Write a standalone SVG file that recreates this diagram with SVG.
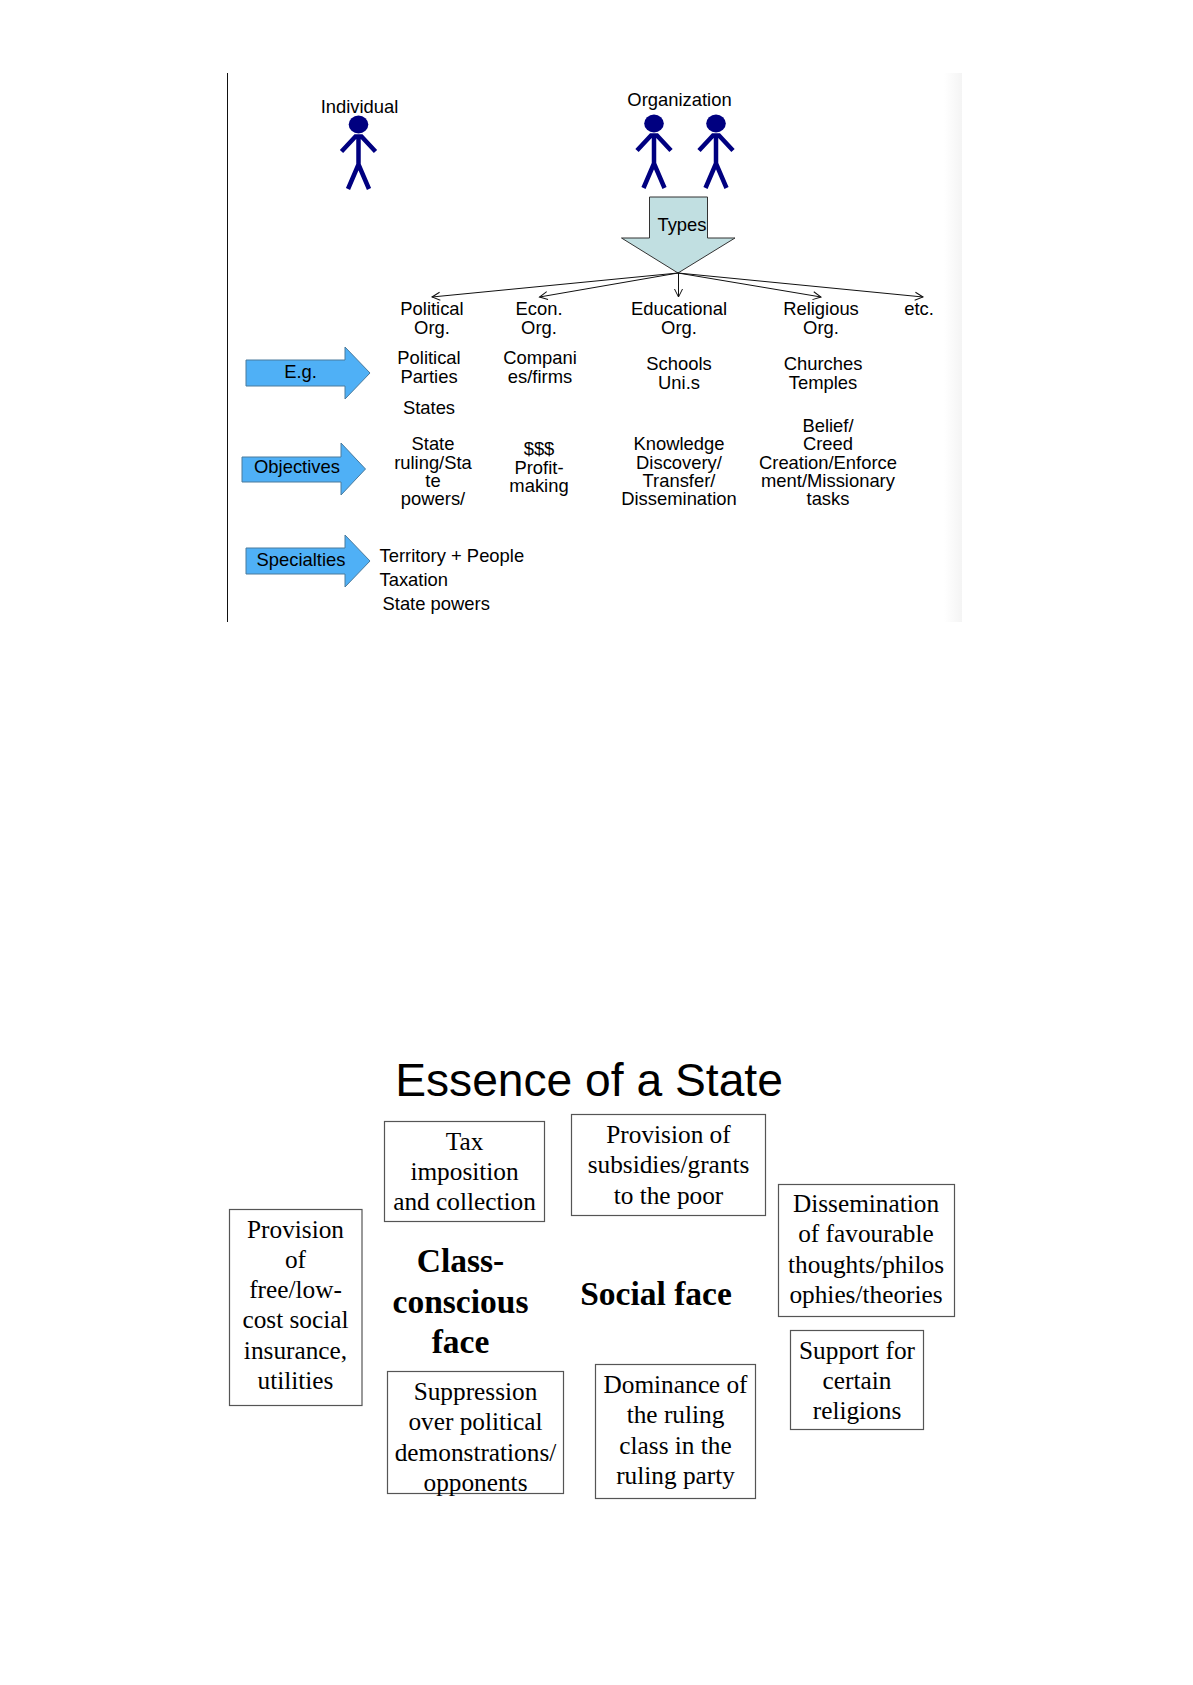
<svg xmlns="http://www.w3.org/2000/svg" width="1193" height="1685" viewBox="0 0 1193 1685">
<style>
.s{font-family:"Liberation Sans",Arial,sans-serif;font-size:18.4px;fill:#000;text-anchor:middle}
.l{text-anchor:start}
.t{font-family:"Liberation Serif","Times New Roman",serif;font-size:25.3px;fill:#000;text-anchor:middle}
.b{font-family:"Liberation Serif","Times New Roman",serif;font-size:33.5px;font-weight:bold;fill:#000;text-anchor:middle}
.box{fill:#fff;stroke:#555;stroke-width:1.2}
.blue{fill:#4fb0f6;stroke:#4a7a9c;stroke-width:1}
.c{fill:none;stroke:#111;stroke-width:1;marker-end:url(#open)}
.fig{fill:none;stroke:#000080;stroke-width:4.500}
.head{fill:#000080}
</style>
<defs>
<marker id="open" markerUnits="userSpaceOnUse" markerWidth="12" markerHeight="12" refX="9" refY="5" orient="auto">
<path d="M1 1 L9 5 L1 9" fill="none" stroke="#111" stroke-width="1"/>
</marker>
<linearGradient id="fade" x1="0" x2="1" y1="0" y2="0"><stop offset="0" stop-color="#fff"/><stop offset="1" stop-color="#f4f4f4"/></linearGradient>
<g id="person">
<ellipse class="head" cx="0" cy="0" rx="9.800" ry="9"/>
<path class="fig" d="M-17 27 L-3 12 H3 L17 27 M0 12 V40 M0 40 L-10.500 64.500 M0 40 L10.500 64.500"/>
</g>
</defs>
<rect width="1193" height="1685" fill="#fff"/>
<rect id="frame-fade" x="944" y="73" width="18" height="549" fill="url(#fade)"/>
<path id="frame-line" d="M227.500 73 V622" stroke="#111" stroke-width="1" fill="none"/>

<g id="individual"><use href="#person" x="358.500" y="124.500"/><text class="s" x="359.500" y="113">Individual</text></g>
<g id="organization"><use href="#person" x="654" y="123.500"/><use href="#person" x="716" y="123.500"/><text class="s" x="679.500" y="106">Organization</text></g>
<g id="types"><path d="M649.500 197 H707.500 V238 H735 L678 273 L621.500 238 H649.500 Z" fill="#c1dfe1" stroke="#333" stroke-width="1"/><text class="s" x="682" y="231">Types</text></g>

<g id="connectors">
<path class="c" d="M678 273 L432 297"/>
<path class="c" d="M678 273 L539.500 297"/>
<path class="c" d="M678.500 273 L678.500 297"/>
<path class="c" d="M678 273 L821 297"/>
<path class="c" d="M678 273 L923 297"/>
</g>

<g id="org-types">
<text class="s" x="432" y="315">Political</text><text class="s" x="432" y="334">Org.</text>
<text class="s" x="539" y="315">Econ.</text><text class="s" x="539" y="334">Org.</text>
<text class="s" x="679" y="315">Educational</text><text class="s" x="679" y="334">Org.</text>
<text class="s" x="821" y="315">Religious</text><text class="s" x="821" y="334">Org.</text>
<text class="s" x="919" y="315">etc.</text>
</g>

<g id="eg-arrow"><path class="blue" d="M246 360 H345 V347 L370 373 L345 399 V386 H246 Z"/><text class="s" x="300.500" y="378">E.g.</text></g>
<g id="objectives-arrow"><path class="blue" d="M242 457 H341 V443 L365.500 469 L341 495 V482 H242 Z"/><text class="s" x="297" y="473">Objectives</text></g>
<g id="specialties-arrow"><path class="blue" d="M246 548 H345 V535 L370 561 L345 587 V574 H246 Z"/><text class="s" x="301" y="566">Specialties</text></g>

<g id="examples">
<text class="s" x="429" y="364">Political</text><text class="s" x="429" y="382.500">Parties</text><text class="s" x="429" y="414">States</text>
<text class="s" x="540" y="364">Compani</text><text class="s" x="540" y="382.500">es/firms</text>
<text class="s" x="679" y="370">Schools</text><text class="s" x="679" y="388.500">Uni.s</text>
<text class="s" x="823" y="370">Churches</text><text class="s" x="823" y="388.500">Temples</text>
</g>
<g id="objectives">
<text class="s" x="433" y="450">State</text><text class="s" x="433" y="468.500">ruling/Sta</text><text class="s" x="433" y="487">te</text><text class="s" x="433" y="505">powers/</text>
<text class="s" x="539" y="455">$$$</text><text class="s" x="539" y="473.500">Profit-</text><text class="s" x="539" y="492">making</text>
<text class="s" x="679" y="450">Knowledge</text><text class="s" x="679" y="468.500">Discovery/</text><text class="s" x="679" y="487">Transfer/</text><text class="s" x="679" y="505">Dissemination</text>
<text class="s" x="828" y="432">Belief/</text><text class="s" x="828" y="450">Creed</text><text class="s" x="828" y="468.500">Creation/Enforce</text><text class="s" x="828" y="487">ment/Missionary</text><text class="s" x="828" y="505">tasks</text>
</g>
<g id="specialties">
<text class="s l" x="379.500" y="561.500">Territory + People</text>
<text class="s l" x="379.500" y="586">Taxation</text>
<text class="s l" x="382.500" y="610">State powers</text>
</g>

<text id="title" x="589" y="1096" font-family="'Liberation Sans',Arial,sans-serif" font-size="46.200" text-anchor="middle">Essence of a State</text>

<g id="box-tax"><rect class="box" x="384.500" y="1121.500" width="160" height="100"/><text class="t" x="464.500" y="1150">Tax</text><text class="t" x="464.500" y="1180">imposition</text><text class="t" x="464.500" y="1210">and collection</text></g>
<g id="box-subsidies"><rect class="box" x="571.500" y="1114.500" width="194" height="101"/><text class="t" x="668.500" y="1143">Provision of</text><text class="t" x="668.500" y="1173">subsidies/grants</text><text class="t" x="668.500" y="1203.500">to the poor</text></g>
<g id="box-dissemination"><rect class="box" x="778.500" y="1184.500" width="176" height="132"/><text class="t" x="866" y="1212">Dissemination</text><text class="t" x="866" y="1242">of favourable</text><text class="t" x="866" y="1272.500">thoughts/philos</text><text class="t" x="866" y="1303">ophies/theories</text></g>
<g id="box-religions"><rect class="box" x="790.500" y="1330.500" width="133" height="99"/><text class="t" x="857" y="1358.500">Support for</text><text class="t" x="857" y="1388.500">certain</text><text class="t" x="857" y="1418.500">religions</text></g>
<g id="box-dominance"><rect class="box" x="595.500" y="1364.500" width="160" height="134"/><text class="t" x="675.500" y="1393">Dominance of</text><text class="t" x="675.500" y="1423">the ruling</text><text class="t" x="675.500" y="1453.500">class in the</text><text class="t" x="675.500" y="1484">ruling party</text></g>
<g id="box-suppression"><rect class="box" x="387.500" y="1371.500" width="176" height="122"/><text class="t" x="475.500" y="1400">Suppression</text><text class="t" x="475.500" y="1430">over political</text><text class="t" x="475.500" y="1460.500">demonstrations/</text><text class="t" x="475.500" y="1490.500">opponents</text></g>
<g id="box-insurance"><rect class="box" x="229.500" y="1209.500" width="132.500" height="196"/><text class="t" x="295.500" y="1237.500">Provision</text><text class="t" x="295.500" y="1267.500">of</text><text class="t" x="295.500" y="1298">free/low-</text><text class="t" x="295.500" y="1328">cost social</text><text class="t" x="295.500" y="1358.500">insurance,</text><text class="t" x="295.500" y="1388.500">utilities</text></g>
<g id="class-face"><text class="b" x="460.500" y="1272">Class-</text><text class="b" x="460.500" y="1312.500">conscious</text><text class="b" x="460.500" y="1353">face</text></g>
<g id="social-face"><text class="b" x="656" y="1305">Social face</text></g>
</svg>
